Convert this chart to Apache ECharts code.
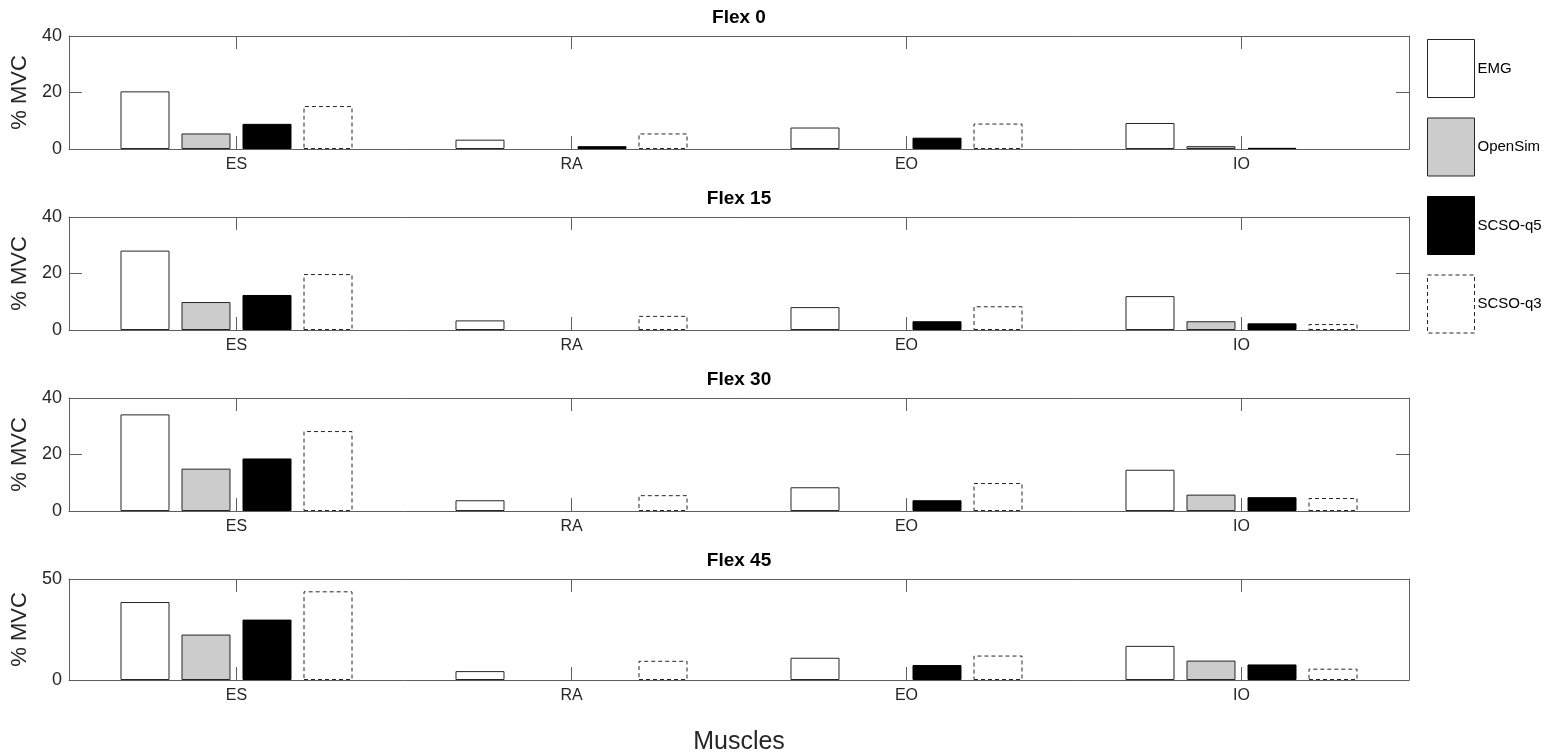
<!DOCTYPE html>
<html>
<head>
<meta charset="utf-8">
<script src="https://cdn.jsdelivr.net/npm/echarts@6/dist/echarts.min.js"></script>
<style>
html,body{margin:0;padding:0;background:#fff;}
#chart{width:1568px;height:756px;}
</style>
</head>
<body>
<div id="chart"></div>
<script>
// ---- data ----
const muscles = ['ES', 'RA', 'EO', 'IO'];
const panelTitles = ['Flex 0', 'Flex 15', 'Flex 30', 'Flex 45'];
const seriesNames = ['EMG', 'OpenSim', 'SCSO-q5', 'SCSO-q3'];
// values per panel (Flex 0, 15, 30, 45), each listing ES, RA, EO, IO
const emg     = [[20.4, 3.3, 7.6, 9.2], [28.1, 3.4, 8.1, 12.0], [34.2, 3.8, 8.4, 14.6], [38.6, 4.4, 11.0, 16.9]];
const openSim = [[5.5, 0, 0, 1.0],      [9.9, 0, 0, 3.1],       [15.0, 0, 0, 5.8],      [22.5, 0, 0, 9.6]];
const scsoQ5  = [[8.9, 1.0, 4.0, 0.4],  [12.4, 0, 3.1, 2.35],   [18.6, 0, 3.8, 4.9],    [29.9, 0, 7.4, 7.7]];
const scsoQ3  = [[15.2, 5.5, 9.0, 0],   [19.8, 5.0, 8.4, 2.1],  [28.3, 5.6, 9.9, 4.6],  [43.9, 9.5, 12.1, 5.6]];
const yMax = [40, 40, 40, 50];
const yInterval = [20, 20, 20, 50];

// ---- layout / style ----
const FONT = "'Liberation Sans', Arial, Helvetica, sans-serif";
const panelTops = [36, 217, 398, 579];
const panelH = 113;
const gridLeft = 69, gridRightX = 1409, gridRight = 1568 - gridRightX;
const frameColor = '#5e5e5e';
const styles = [
  { color: '#ffffff', borderColor: '#262626', borderWidth: 1, borderType: 'solid' },
  { color: '#cccccc', borderColor: '#262626', borderWidth: 1, borderType: 'solid' },
  { color: '#000000', borderColor: '#000000', borderWidth: 1, borderType: 'solid' },
  { color: '#ffffff', borderColor: '#262626', borderWidth: 1, borderType: [4, 3] }
];
const allData = [emg, openSim, scsoQ5, scsoQ3];

const grids = [], xAxes = [], yAxes = [], series = [], titles = [];
panelTops.forEach((top, p) => {
  grids.push({ left: gridLeft, right: gridRight, top: top, height: panelH, containLabel: false });
  titles.push({
    text: panelTitles[p], left: (gridLeft + gridRightX) / 2, textAlign: 'center', top: top - 28, padding: 0,
    textStyle: { fontFamily: FONT, fontSize: 19, fontWeight: 'bold', color: '#000' }
  });
  const last = p === panelTops.length - 1;
  xAxes.push({
    type: 'category', gridIndex: p, data: muscles, position: 'bottom',
    axisLine: { show: true, onZero: false, lineStyle: { color: frameColor, width: 1 } },
    axisTick: { show: true, inside: true, alignWithLabel: true, length: 13, lineStyle: { color: frameColor } },
    axisLabel: { fontFamily: FONT, fontSize: 16, color: '#262626', margin: 8 },
    name: last ? 'Muscles' : '', nameLocation: 'middle', nameGap: 50,
    nameTextStyle: { fontFamily: FONT, fontSize: 25, color: '#262626' },
    splitLine: { show: false }
  });
  xAxes.push({
    type: 'category', gridIndex: p, data: muscles, position: 'top',
    axisLine: { show: true, onZero: false, lineStyle: { color: frameColor, width: 1 } },
    axisTick: { show: true, inside: true, alignWithLabel: true, length: 13, lineStyle: { color: frameColor } },
    axisLabel: { show: false }, splitLine: { show: false }
  });
  yAxes.push({
    type: 'value', gridIndex: p, min: 0, max: yMax[p], interval: yInterval[p], position: 'left',
    axisLine: { show: true, onZero: false, lineStyle: { color: frameColor, width: 1 } },
    axisTick: { show: true, inside: true, length: 13, lineStyle: { color: frameColor } },
    axisLabel: { fontFamily: FONT, fontSize: 18, color: '#262626', margin: 7 },
    name: '% MVC', nameLocation: 'middle', nameGap: 30, nameRotate: 90,
    nameTextStyle: { fontFamily: FONT, fontSize: 22, color: '#262626' },
    splitLine: { show: false }
  });
  yAxes.push({
    type: 'value', gridIndex: p, min: 0, max: yMax[p], interval: yInterval[p], position: 'right',
    axisLine: { show: true, onZero: false, lineStyle: { color: frameColor, width: 1 } },
    axisTick: { show: true, inside: true, length: 13, lineStyle: { color: frameColor } },
    axisLabel: { show: false }, splitLine: { show: false }
  });
  seriesNames.forEach((name, s) => {
    series.push({
      name: name, type: 'bar', xAxisIndex: p * 2, yAxisIndex: p * 2,
      data: allData[s][p].map(v => v === 0 ? { value: v, itemStyle: { borderWidth: 0, opacity: 0 } } : v),
      barWidth: 49, barGap: '24.5%',
      itemStyle: Object.assign({}, styles[s]),
      emphasis: { disabled: true }, animation: false, z: 1
    });
  });
});

const chart = echarts.init(document.getElementById('chart'), null, { renderer: 'canvas' });
chart.setOption({
  backgroundColor: '#ffffff',
  animation: false,
  title: titles,
  grid: grids,
  xAxis: xAxes,
  yAxis: yAxes,
  legend: {
    data: seriesNames.map((n, s) => ({ name: n, itemStyle: Object.assign({}, styles[s]) })),
    orient: 'vertical', left: 1427, top: 39, padding: 0,
    itemWidth: 47, itemHeight: 58, itemGap: 19.5, icon: 'rect',
    selectedMode: false,
    textStyle: { fontFamily: FONT, fontSize: 15, color: '#000', padding: [0, 0, 0, -2] }
  },
  series: series
});
</script>
</body>
</html>
